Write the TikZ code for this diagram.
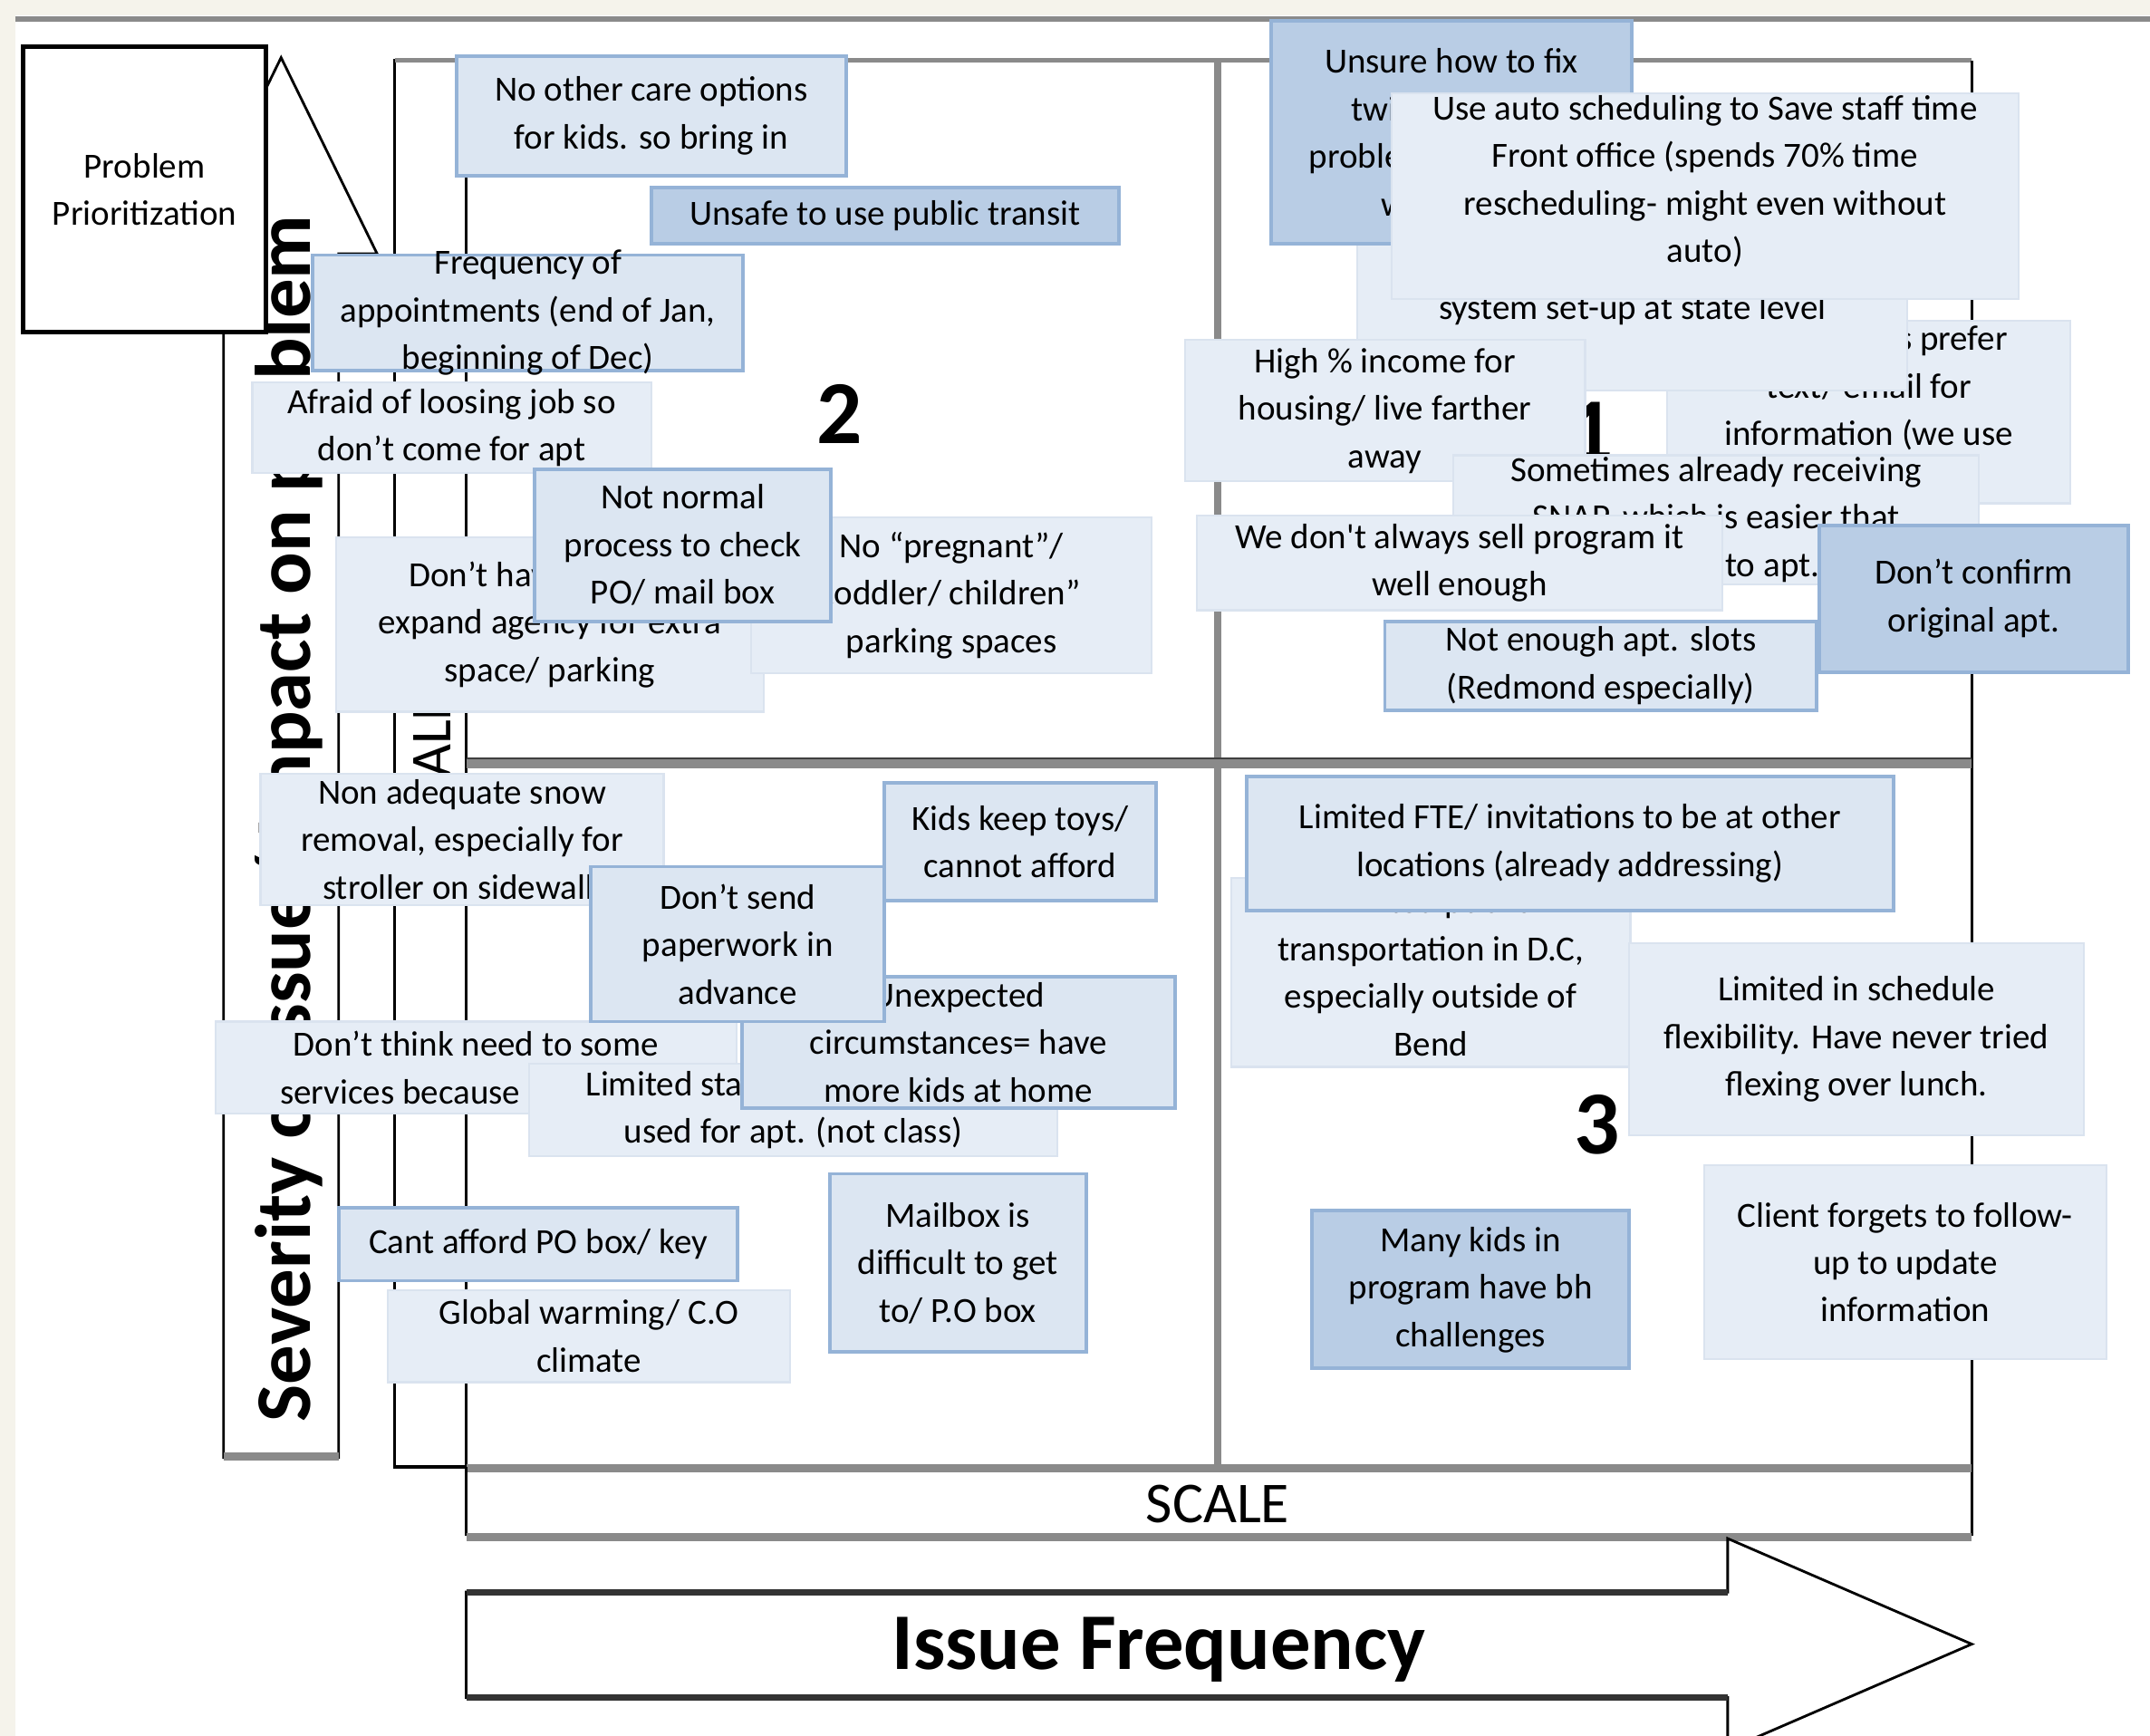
\documentclass[tikz,border=0pt]{standalone}
\usepackage{fontspec}
\setmainfont{Carlito}
\definecolor{darkfill}{HTML}{B9CDE5}
\definecolor{midfill}{HTML}{DCE6F2}
\definecolor{lightfill}{HTML}{E6EDF6}
\definecolor{boxline}{HTML}{95B3D7}
\definecolor{lightline}{HTML}{DAE3EF}
\definecolor{paper}{HTML}{F5F3EB}
\definecolor{rule}{HTML}{8A8A8A}

\begin{document}
\begin{tikzpicture}[x=0.15mm, y=-0.15mm]
        \tikzstyle{issue} = [rectangle, inner sep=0pt, align=center, font=\fontsize{11}{14.8}\selectfont]
        \tikzstyle{darkbox} = [issue, fill=darkfill, draw=boxline, line width=1.1pt]
        \tikzstyle{midbox} = [issue, fill=midfill, draw=boxline, line width=1.1pt]
        \tikzstyle{lightbox} = [issue, fill=lightfill, draw=lightline, line width=0.6pt]
        \tikzstyle{quadnum} = [font=\bfseries\fontsize{28}{30}\selectfont]
        \tikzstyle{axis} = [draw=black, fill=white, line width=0.8pt]
        \tikzstyle{shade} = [draw=rule, line width=2.5pt]
        \tikzset{boxsize/.style 2 args={minimum width=#1*0.15mm, minimum height=#2*0.15mm}}

        \clip (0,0) rectangle (1568,1266);
        \fill[white] (0,0) rectangle (1568,1266);
        \fill[paper] (0,0) rectangle (1568,11);
        \fill[paper] (0,0) rectangle (11,1266);
        \draw[rule, line width=1.6pt] (11,14) -- (1568,14);

        % axes and grid
        \draw[axis] (163,1063) -- (163,185) -- (135,185) -- (205,42) -- (275,185) -- (247,185) -- (247,1063) -- cycle;
        \draw[shade] (163,1062) -- (247,1062);
        \draw[axis] (288,44) rectangle (340,1070);
        \draw[rule, line width=1.2pt] (288,44) -- (1438,44);
        \draw[line width=0.8pt] (1438,44) -- (1438,1120);
        \draw[rule, line width=2.2pt] (888,44) -- (888,1070);
        \draw[rule, line width=3pt] (340,557) -- (1438,557);
        \draw[black!75, line width=0.8pt] (340,553) -- (1438,553);
        \draw[line width=1.2pt] (288,1070) -- (340,1070);
        \draw[shade] (340,1071) -- (1438,1071);
        \draw[line width=0.8pt] (340,1070) -- (340,1120);
        \draw[shade] (340,1121) -- (1438,1121);
        \draw[axis] (340,1161) -- (1260,1161) -- (1260,1122) -- (1438,1199) -- (1260,1276) -- (1260,1238) -- (340,1238) -- cycle;
        \draw[black!80, line width=2pt] (340,1161) -- (1260,1161);
        \draw[black!80, line width=2pt] (340,1238) -- (1260,1238);

        \node (freqaxis) [font=\bfseries\fontsize{25}{28}\selectfont] at (845,1203) {Issue Frequency};
        \node (scalex) [font=\fontsize{18}{20}\selectfont] at (888,1097) {SCALE};
        \node (scaley) [font=\fontsize{18}{20}\selectfont, rotate=90] at (315,557) {SCALE};
        \node (severity) [font=\bfseries\fontsize{24.5}{26}\selectfont, rotate=90, anchor=base] at (226,597) {Severity of issue/ Impact on problem};

        \node (q2) [quadnum] at (612,302) {2};
        \node (q1) [quadnum] at (1160,315) {1};
        \node (q3) [quadnum] at (1165,820) {3};

        \node (prio) [issue, draw=black, fill=white, line width=1.3pt, boxsize={177}{208}] at (105.5,138) {Problem\\Prioritization};

        % quadrant 2
        \node (careopts) [midbox, boxsize={284}{87}] at (475,84.5) {No other care options\\for kids. so bring in};
        \node (transit) [darkbox, boxsize={341}{41}] at (645.5,157.5) {Unsafe to use public transit};
        \node (apptfreq) [midbox, boxsize={314}{84}, label={[issue]center:{Frequency of\\appointments (end of Jan,\\beginning of Dec)}}] at (385,228) {};
        \node (jobfear) [lightbox, boxsize={291}{66}] at (329.5,312) {Afraid of loosing job so\\don’t come for apt};
        \node (roomlack) [lightbox, boxsize={312}{127}] at (401,455.5) {Don’t have funds to\\expand agency for extra\\space/ parking};
        \node (babypark) [lightbox, boxsize={292}{114}] at (694,434) {No “pregnant”/\\toddler/ children”\\parking spaces};
        \node (mailcheck) [midbox, boxsize={216}{111}] at (498,397.5) {Not normal\\process to check\\PO/ mail box};

        % quadrant 1
        \node (prefertext) [lightbox, boxsize={294}{133}] at (1363,300.5) {Many clients prefer\\text/ email for\\information (we use\\mail)};
        \node (statesys) [lightbox, boxsize={401}{118}] at (1190.5,226) {system set-up at state level};
        \node (twicebook) [darkbox, boxsize={263}{163}] at (1058.5,96.5) {Unsure how to fix\\twice booking\\problem because of\\with their};
        \node (autosched) [lightbox, boxsize={457}{150}, label={[issue, yshift=1.6mm]center:{Use auto scheduling to Save staff time\\Front office (spends 70\% time\\rescheduling- might even without\\auto)}}] at (1243.5,143) {};
        \node (housing) [lightbox, boxsize={292}{103}] at (1010,299.5) {High \% income for\\housing/ live farther\\away};
        \node (snapeasy) [lightbox, boxsize={383}{94}] at (1251.5,379) {Sometimes already receiving\\SNAP, which is easier that\\coming to apt.};
        \node (sellprog) [lightbox, boxsize={383}{69}] at (1064.5,410.5) {We don\textquotesingle t always sell program it\\well enough};
        \node (confirm) [darkbox, boxsize={225}{107}] at (1439.5,436.5) {Don’t confirm\\original apt.};
        \node (slots) [midbox, boxsize={315}{65}] at (1167.5,485.5) {Not enough apt. slots\\(Redmond especially)};

        % quadrant 4
        \node (snow) [lightbox, boxsize={294}{96}] at (337,612) {Non adequate snow\\removal, especially for\\stroller on sidewalk};
        \node (needserv) [lightbox, boxsize={380}{67}] at (347,778.5) {Don’t think need to some\\services because of income};
        \node (staffroom) [lightbox, boxsize={385}{67}] at (578.5,809.5) {Limited staff/ space is mostly\\used for apt. (not class)};
        \node (unexpected) [midbox, boxsize={316}{96}] at (699,760) {Unexpected\\circumstances= have\\more kids at home};
        \node (paperwork) [midbox, boxsize={214}{113}] at (538,688.5) {Don’t send\\paperwork in\\advance};
        \node (toys) [midbox, boxsize={198}{86}] at (744,614) {Kids keep toys/\\cannot afford};
        \node (pobox) [midbox, boxsize={291}{53}] at (392.5,907.5) {Cant afford PO box/ key};
        \node (climate) [lightbox, boxsize={293}{67}] at (429.5,974.5) {Global warming/ C.O\\climate};
        \node (mailbox) [midbox, boxsize={187}{130}] at (698.5,921) {Mailbox is\\difficult to get\\to/ P.O box};

        % quadrant 3
        \node (pubtrans) [lightbox, boxsize={291}{138}] at (1043.5,709) {Limited public\\transportation in D.C,\\especially outside of\\Bend};
        \node (fte) [midbox, boxsize={472}{98}] at (1145,615) {Limited FTE/ invitations to be at other\\locations (already addressing)};
        \node (flex) [lightbox, boxsize={332}{140}] at (1354,758) {Limited in schedule\\flexibility. Have never tried\\flexing over lunch.};
        \node (bhkids) [darkbox, boxsize={231}{115}] at (1072.5,940.5) {Many kids in\\program have bh\\challenges};
        \node (followup) [lightbox, boxsize={293}{141}] at (1389.5,920.5) {Client forgets to follow-\\up to update\\information};
\end{tikzpicture}
\end{document}
